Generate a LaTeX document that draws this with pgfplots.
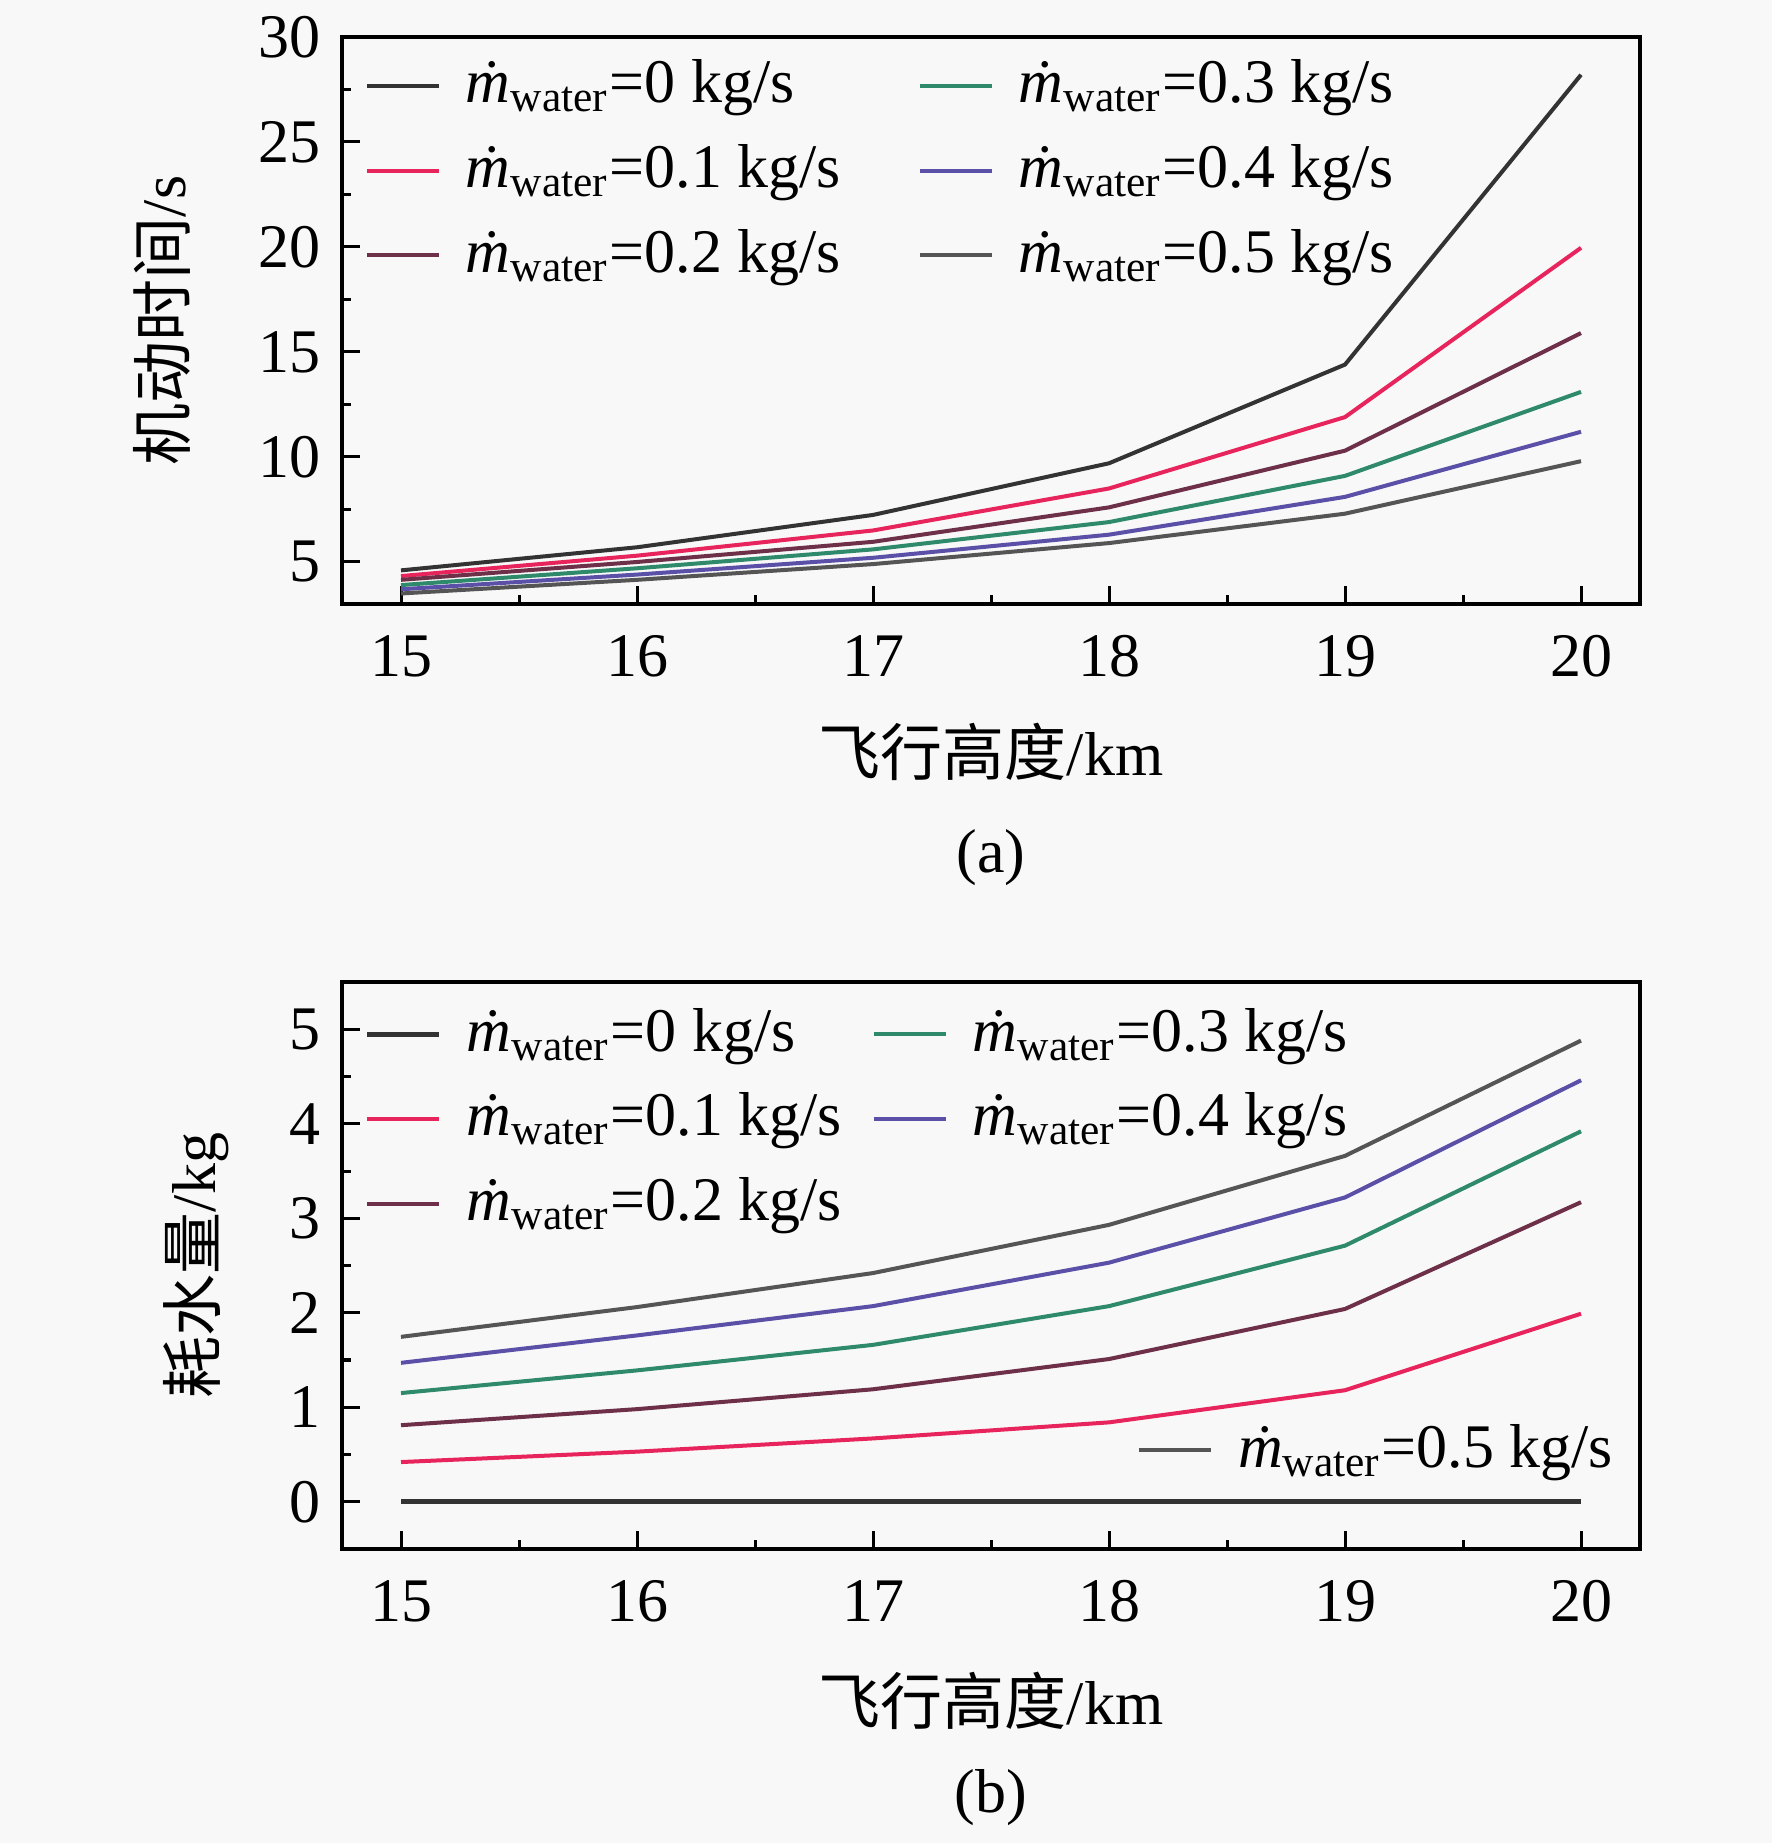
\documentclass[border=0pt]{standalone}
\usepackage{fontspec}
\setmainfont{Liberation Serif}
\newfontfamily\cjk{Noto Sans CJK SC}
\usepackage{pgfplots}
\pgfplotsset{compat=1.18}
\definecolor{bgc}{HTML}{F8F8F8}
\definecolor{c0}{HTML}{333333}
\definecolor{c1}{HTML}{E8245C}
\definecolor{c2}{HTML}{6E3048}
\definecolor{c3}{HTML}{2E8A6A}
\definecolor{c4}{HTML}{5A50A8}
\definecolor{c5}{HTML}{555555}
\newcommand{\mw}[2][0pt]{\hspace{5pt}\makebox[#1][l]{\textit{\.m}\textsubscript{water}=#2 kg/s}}
\pgfplotsset{
  base/.style={
    scale only axis, width=259.6pt, height=113.4pt,
    xmin=14.75, xmax=20.25, xtick={15,...,20}, minor x tick num=1,
    tick align=inside, xtick pos=bottom, ytick pos=left,
    major tick length=3.6pt, minor tick length=1.8pt,
    axis line style={line width=0.7pt},
    every tick/.style={line width=0.6pt, black},
    /pgf/number format/assume math mode=true,
    xticklabel style={yshift=-2pt},
    clip mode=individual,
    every axis plot/.append style={line width=0.8pt},
    legend columns=3, transpose legend,
    legend cell align=left,
    legend style={draw=none, fill=none, inner sep=0pt, outer sep=0pt,
      nodes={inner sep=0pt}, anchor=north west, row sep=6.5pt, column sep=0pt},
    legend image code/.code={\draw[##1] (0pt,0pt) -- (14.4pt,0pt);},
  }
}
\begin{document}
\fontsize{12.4pt}{15pt}\selectfont%
\begin{tikzpicture}
\fill[bgc] (0,0) rectangle (354.4pt,368.6pt);
\useasboundingbox (0,0) rectangle (354.4pt,368.6pt);
\begin{axis}[base, at={(68.4pt,247.8pt)}, anchor=south west,
  ymin=3, ymax=30, ytick={5,10,...,30}, minor y tick num=1,
  ylabel={{\cjk 机动时间}/s},
  ylabel style={at={(axis description cs:-0.1387,0.5)}, anchor=center},
  xlabel={{\cjk 飞行高度}/km},
  xlabel style={at={(axis description cs:0.5,-0.261)}, anchor=center},
  legend style={at={(axis description cs:0.0177,0.96)}},
]
\addplot[c0] coordinates {(15,4.6) (16,5.7) (17,7.24) (18,9.7) (19,14.4) (20,28.2)};
\addlegendentry{\mw[90.4pt]{0}}
\addplot[c1] coordinates {(15,4.33) (16,5.3) (17,6.5) (18,8.5) (19,11.9) (20,19.96)};
\addlegendentry{\mw[90.4pt]{0.1}}
\addplot[c2] coordinates {(15,4.15) (16,5.0) (17,5.96) (18,7.6) (19,10.3) (20,15.9)};
\addlegendentry{\mw[90.4pt]{0.2}}
\addplot[c3] coordinates {(15,3.9) (16,4.7) (17,5.6) (18,6.9) (19,9.1) (20,13.1)};
\addlegendentry{\mw{0.3}}
\addplot[c4] coordinates {(15,3.7) (16,4.4) (17,5.2) (18,6.3) (19,8.1) (20,11.2)};
\addlegendentry{\mw{0.4}}
\addplot[c5] coordinates {(15,3.5) (16,4.15) (17,4.9) (18,5.9) (19,7.3) (20,9.8)};
\addlegendentry{\mw{0.5}}
\node at (axis description cs:0.5,-0.448) {(a)};
\end{axis}
\begin{axis}[base, at={(68.4pt,58.8pt)}, anchor=south west,
  ymin=-0.5, ymax=5.5, ytick={0,...,5}, minor y tick num=1,
  ylabel={{\cjk 耗水量}/kg},
  ylabel style={at={(axis description cs:-0.1125,0.5)}, anchor=center},
  xlabel={{\cjk 飞行高度}/km},
  xlabel style={at={(axis description cs:0.5,-0.268)}, anchor=center},
  legend style={at={(axis description cs:0.0177,0.954)}},
]
\addplot[c0, line width=1pt] coordinates {(15,0) (16,0) (17,0) (18,0) (19,0) (20,0)};
\addlegendentry{\mw[81pt]{0}}
\addplot[c1] coordinates {(15,0.42) (16,0.53) (17,0.67) (18,0.84) (19,1.18) (20,1.99)};
\addlegendentry{\mw[81pt]{0.1}}
\addplot[c2] coordinates {(15,0.81) (16,0.98) (17,1.19) (18,1.51) (19,2.04) (20,3.17)};
\addlegendentry{\mw[81pt]{0.2}}
\addplot[c3] coordinates {(15,1.15) (16,1.39) (17,1.66) (18,2.07) (19,2.71) (20,3.92)};
\addlegendentry{\mw{0.3}}
\addplot[c4] coordinates {(15,1.47) (16,1.76) (17,2.07) (18,2.53) (19,3.22) (20,4.46)};
\addlegendentry{\mw{0.4}}
\addplot[c5, forget plot] coordinates {(15,1.745) (16,2.06) (17,2.42) (18,2.93) (19,3.66) (20,4.88)};
\node at (axis description cs:0.5,-0.439) {(b)};
\end{axis}
\begin{axis}[base, at={(68.4pt,58.8pt)}, anchor=south west, hide axis,
  ymin=-0.5, ymax=5.5,
  legend columns=1,
  legend style={at={(axis description cs:0.6125,0.22)}, anchor=north west},
]
\addlegendimage{c5, line width=0.8pt}
\addlegendentry{\mw{0.5}}
\end{axis}
\end{tikzpicture}%
\end{document}
